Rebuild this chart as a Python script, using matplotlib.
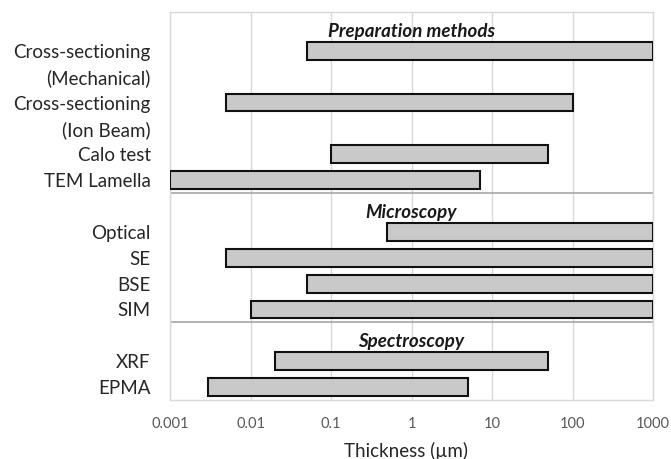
import matplotlib.pyplot as plt

# Thickness ranges (µm) per technique, top to bottom
methods = ["Cross-sectioning\n(Mechanical)", "Cross-sectioning\n(Ion Beam)", "Calo test", "TEM Lamella",
           "Optical", "SE", "BSE", "SIM",
           "XRF", "EPMA"]
low = [0.05, 0.005, 0.1, 0.001,
       0.5, 0.005, 0.05, 0.01,
       0.02, 0.003]
high = [1000, 100, 50, 7,
        1000, 1000, 1000, 1000,
        50, 5]

# Row index of each bar (rows 0, 7, 12 hold the group titles)
rows = [1, 3, 5, 6, 8, 9, 10, 11, 13, 14]

groups = ["Preparation methods", "Microscopy", "Spectroscopy"]
group_rows = [0, 7, 12]
separators = [6.5, 11.5]

xticks = [0.001, 0.01, 0.1, 1, 10, 100, 1000]
xticklabels = ["0.001", "0.01", "0.1", "1", "10", "100", "1000"]

font = "Lato"
plt.rcParams['font.family'] = [font, 'DejaVu Sans']

fig = plt.figure(figsize=(6.71, 4.59), dpi=100)
ax = fig.add_axes([0.2534, 0.1285, 0.7198, 0.8454])

widths = [h - l for l, h in zip(low, high)]
ax.barh(rows, widths, left=low, height=0.69, color='#c9c9c9',
        edgecolor='#111111', linewidth=1.5, zorder=3)

ax.set_xscale('log')
ax.set_xlim(0.001, 1000)
ax.set_ylim(14.5, -0.5)

ax.set_xticks(xticks)
ax.set_xticklabels(xticklabels, fontsize=10.5, color='#595959')
ax.xaxis.set_minor_locator(plt.NullLocator())
ax.tick_params(axis='x', length=0, pad=12)

# wrapped labels: each line of a name takes one row, starting at the bar
tick_pos, tick_txt = [], []
for name, r in zip(methods, rows):
    for k, line in enumerate(name.split("\n")):
        tick_pos.append(r + k)
        tick_txt.append(line)
ax.set_yticks(tick_pos)
ax.set_yticklabels(tick_txt, fontsize=13.5, color='#262626')
ax.tick_params(axis='y', length=0, pad=14)

ax.grid(axis='x', color='#d9d9d9', linewidth=1, zorder=0)
for s in ax.spines.values():
    s.set_color('#d9d9d9')
    s.set_linewidth(1)

for y in separators:
    ax.axhline(y, color='#a6a6a6', linewidth=1.2, zorder=2)

for name, r in zip(groups, group_rows):
    ax.text(1, r + 0.25, name, ha='center', va='center', fontsize=13.5,
            fontweight='bold', fontstyle='italic', color='#1a1a1a', zorder=4)

ax.set_xlabel("Thickness (µm)", fontsize=13.5, color='#262626')
ax.xaxis.set_label_coords(0.489, -0.107)

fig.savefig("out.png", dpi=100, facecolor='white')
